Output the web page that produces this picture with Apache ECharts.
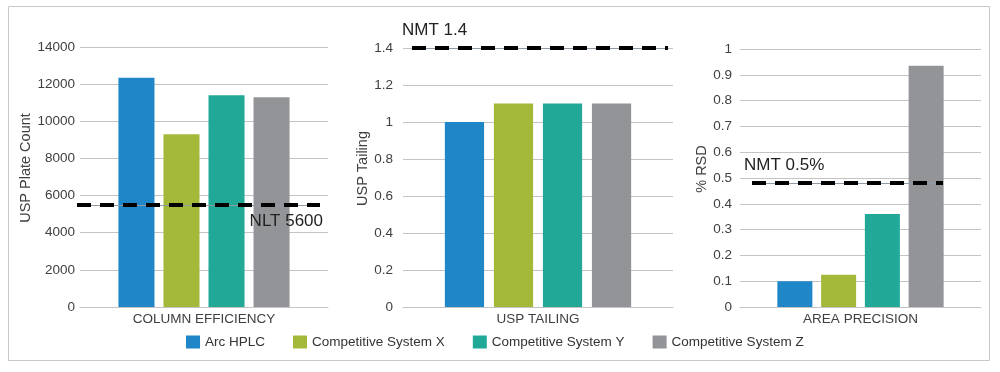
<!DOCTYPE html>
<html>
<head>
<meta charset="utf-8">
<script src="https://cdn.jsdelivr.net/npm/echarts@6/dist/echarts.min.js"></script>
<style>
  html, body { margin: 0; padding: 0; background: #ffffff; }
  #chart { width: 1000px; height: 372px; }
</style>
</head>
<body>
<div id="chart"></div>
<script>
// ---- data ----
const categories = ['COLUMN EFFICIENCY', 'USP TAILING', 'AREA PRECISION'];
const seriesNames = ['Arc HPLC', 'Competitive System X', 'Competitive System Y', 'Competitive System Z'];
const plateCount = [12350, 9300, 11400, 11300];
const tailing = [1.0, 1.1, 1.1, 1.1];
const areaRsd = [0.1, 0.125, 0.36, 0.935];
const limitValues = [5500, 1.41, 0.48];
const limitLabels = ['NLT 5600', 'NMT 1.4', 'NMT 0.5%'];
const yAxisNames = ['USP Plate Count', 'USP Tailing', '% RSD'];
const yMax = [14000, 1.4, 1];
const yInterval = [2000, 0.2, 0.1];

// ---- styles ----
const colors = ['#1f87c8', '#a4b83a', '#21a897', '#929497'];
const font = 'Liberation Sans, Arial, Helvetica, sans-serif';
const textColor = '#404040';
const gridColor = '#c4c4c4';
const panelValues = [plateCount, tailing, areaRsd];
const grids = [
  { left: 80, top: 47, width: 248, height: 260 },
  { left: 403, top: 48, width: 270, height: 259 },
  { left: 740, top: 49, width: 241, height: 258 }
];
const labelMargins = [5, 10, 8];
const nameGaps = [38, 33, 31];
const lineExtents = [[77, 320], [412, 668], [752, 943]];
const limitLabelPos = ['insideEndBottom', 'insideStartTop', 'insideStartTop'];
const limitLabelDist = [[-3, 8], [-10, 9], [-8, 9]];

const xAxes = categories.map((c, p) => ({
  type: 'category', gridIndex: p, data: [c],
  axisTick: { show: false },
  axisLine: { lineStyle: { color: gridColor, width: 1 } },
  axisLabel: { color: textColor, fontFamily: font, fontSize: 13.5, margin: 5 }
}));

const yAxes = yAxisNames.map((n, p) => ({
  type: 'value', gridIndex: p, min: 0, max: yMax[p], interval: yInterval[p],
  name: n, nameLocation: 'middle', nameGap: nameGaps[p],
  nameTextStyle: { color: textColor, fontFamily: font, fontSize: 14.5, padding: [0, 0, 0, 18] },
  axisLine: { show: false }, axisTick: { show: false },
  axisLabel: {
    color: textColor, fontFamily: font, fontSize: 13.5, margin: labelMargins[p],
    formatter: (v) => String(+v.toFixed(4))
  },
  splitLine: { lineStyle: { color: gridColor, width: 1 } }
}));

const series = [];
panelValues.forEach((vals, p) => {
  seriesNames.forEach((name, i) => {
    const s = {
      type: 'bar', name: name, xAxisIndex: p, yAxisIndex: p,
      data: [vals[i]],
      barGap: '25%', barCategoryGap: '31%',
      itemStyle: { color: colors[i] },
      emphasis: { disabled: true },
      animation: false
    };
    if (i === seriesNames.length - 1) {
      const v = limitValues[p];
      const ex = lineExtents[p];
      s.markLine = {
        silent: true, symbol: 'none', animation: false,
        data: [
          [
            { x: ex[0], yAxis: v, lineStyle: { type: 'solid', width: 1, color: '#8f9ba6' }, label: { show: false } },
            { x: ex[1], yAxis: v }
          ],
          [
            {
              x: ex[0], yAxis: v,
              lineStyle: { type: [14, 9], width: 4, color: '#000000' },
              label: {
                show: true, formatter: limitLabels[p], position: limitLabelPos[p],
                distance: limitLabelDist[p], color: '#222222', fontFamily: font, fontSize: 17
              }
            },
            { x: ex[1], yAxis: v }
          ]
        ]
      };
    }
    series.push(s);
  });
});

const chart = echarts.init(document.getElementById('chart'), null, { renderer: 'canvas' });
chart.setOption({
  backgroundColor: '#ffffff',
  animation: false,
  grid: grids,
  xAxis: xAxes,
  yAxis: yAxes,
  legend: {
    data: seriesNames, left: 181, top: 330,
    itemWidth: 14, itemHeight: 13, itemGap: 28,
    icon: 'rect',
    textStyle: { color: '#333333', fontFamily: font, fontSize: 13.5 }
  },
  graphic: [{
    type: 'rect', silent: true, z: -1,
    shape: { x: 8.5, y: 6.5, width: 981, height: 354 },
    style: { fill: 'none', stroke: '#c8c8c8', lineWidth: 1 }
  }],
  series: series
});
</script>
</body>
</html>
